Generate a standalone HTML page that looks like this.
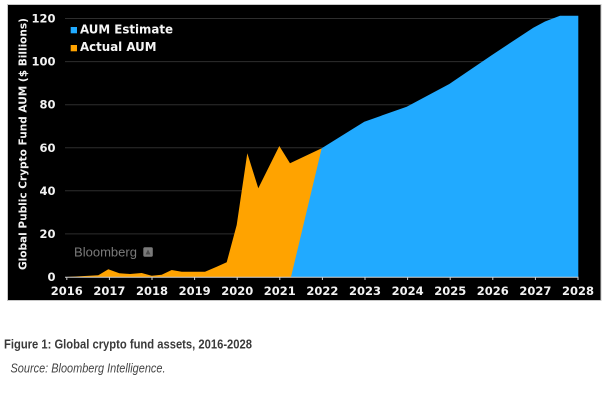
<!DOCTYPE html>
<html><head><meta charset="utf-8"><style>
html,body{margin:0;padding:0;background:#fff;}
svg{display:block;}
</style></head><body>
<svg width="607" height="402" viewBox="0 0 607 402" xmlns="http://www.w3.org/2000/svg">
<rect x="0" y="0" width="607" height="402" fill="#fff"/>
<rect x="7.5" y="4.5" width="593.5" height="296" fill="#000" stroke="#c8c8c8" stroke-width="1"/>
<g stroke="#2e2e2e" stroke-width="1">
<line x1="65" y1="18.5" x2="578" y2="18.5"/>
<line x1="65" y1="61.6" x2="578" y2="61.6"/>
<line x1="65" y1="104.7" x2="578" y2="104.7"/>
<line x1="65" y1="147.8" x2="578" y2="147.8"/>
<line x1="65" y1="190.8" x2="578" y2="190.8"/>
<line x1="65" y1="233.9" x2="578" y2="233.9"/>
</g>
<polygon fill="#ffa300" points="66.7,277 98.3,275.3 108.3,269.3 119.3,273.3 130,274 141.7,273 151.7,275.7 161.7,274.7 171.7,270 181.7,271.7 193.3,271.7 205,271.7 216.7,266.7 226.7,262.3 236.7,225 247.3,153.3 258.3,188.3 279.3,146 290,163.3 321.7,148.3 321.7,277"/>
<polygon fill="#21aaff" points="291,277 321.7,148.3 364.3,121.7 406.7,106.7 449.3,84 492,55 533.3,27.7 545,21.5 560,15.7 578.3,15.7 578.3,277"/>
<line x1="65" y1="277.2" x2="578.5" y2="277.2" stroke="#cfcfcf" stroke-width="1"/>
<g stroke="#cfcfcf" stroke-width="1">
<line x1="66.8" y1="277" x2="66.8" y2="280"/>
<line x1="109.4" y1="277" x2="109.4" y2="280"/>
<line x1="152" y1="277" x2="152" y2="280"/>
<line x1="194.6" y1="277" x2="194.6" y2="280"/>
<line x1="237.2" y1="277" x2="237.2" y2="280"/>
<line x1="279.8" y1="277" x2="279.8" y2="280"/>
<line x1="322.4" y1="277" x2="322.4" y2="280"/>
<line x1="365" y1="277" x2="365" y2="280"/>
<line x1="407.6" y1="277" x2="407.6" y2="280"/>
<line x1="450.2" y1="277" x2="450.2" y2="280"/>
<line x1="492.8" y1="277" x2="492.8" y2="280"/>
<line x1="535.4" y1="277" x2="535.4" y2="280"/>
<line x1="578" y1="277" x2="578" y2="280"/>
</g>
<g font-family="'DejaVu Sans', Verdana, sans-serif" font-weight="bold" font-size="11.5" fill="#f2f2f2" text-anchor="middle">
<text x="66.8" y="295">2016</text>
<text x="109.4" y="295">2017</text>
<text x="152" y="295">2018</text>
<text x="194.6" y="295">2019</text>
<text x="237.2" y="295">2020</text>
<text x="279.8" y="295">2021</text>
<text x="322.4" y="295">2022</text>
<text x="365" y="295">2023</text>
<text x="407.6" y="295">2024</text>
<text x="450.2" y="295">2025</text>
<text x="492.8" y="295">2026</text>
<text x="535.4" y="295">2027</text>
<text x="578" y="295">2028</text>
</g>
<g font-family="'DejaVu Sans', Verdana, sans-serif" font-weight="bold" font-size="11.5" fill="#f2f2f2" text-anchor="end">
<text x="55.5" y="22.5">120</text>
<text x="55.5" y="65.6">100</text>
<text x="55.5" y="108.7">80</text>
<text x="55.5" y="151.8">60</text>
<text x="55.5" y="194.8">40</text>
<text x="55.5" y="237.9">20</text>
<text x="55.5" y="281">0</text>
</g>
<text transform="translate(26.3,270) rotate(-90)" font-family="'DejaVu Sans', Verdana, sans-serif" font-weight="bold" font-size="10.5" fill="#f2f2f2" textLength="252" lengthAdjust="spacingAndGlyphs">Global Public Crypto Fund AUM ($ Billions)</text>
<rect x="70.7" y="27" width="6.3" height="6.3" fill="#21aaff"/>
<rect x="70.7" y="45" width="6.3" height="6.3" fill="#ffa300"/>
<g font-family="'DejaVu Sans', Verdana, sans-serif" font-weight="bold" font-size="12.5" fill="#f5f5f5">
<text x="80" y="33.3" textLength="93" lengthAdjust="spacingAndGlyphs">AUM Estimate</text>
<text x="80" y="51" textLength="76.5" lengthAdjust="spacingAndGlyphs">Actual AUM</text>
</g>
<text x="74" y="256.5" font-family="'Liberation Sans', Arial, sans-serif" font-size="13" fill="#7a7a7a" textLength="63" lengthAdjust="spacingAndGlyphs">Bloomberg</text>
<rect x="143.3" y="247.3" width="9.5" height="9.5" rx="1.5" fill="#7a7a7a"/>
<path d="M145.5 254.5 L148 249.5 L150.5 254.5 Z" fill="#4a4a4a"/>
<text x="4" y="348.7" font-family="'Liberation Sans', Arial, sans-serif" font-weight="bold" font-size="13" fill="#3a3a3a" textLength="248" lengthAdjust="spacingAndGlyphs">Figure 1: Global crypto fund assets, 2016-2028</text>
<text x="10.5" y="372.3" font-family="'Liberation Sans', Arial, sans-serif" font-style="italic" font-size="12.5" fill="#444" textLength="155" lengthAdjust="spacingAndGlyphs">Source: Bloomberg Intelligence.</text>
</svg>
</body></html>
